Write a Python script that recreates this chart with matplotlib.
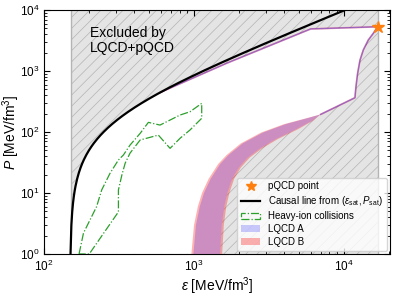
import numpy as np
import matplotlib
matplotlib.use("Agg")
import matplotlib.pyplot as plt
from matplotlib.lines import Line2D
from matplotlib.patches import Patch

plt.rcParams['font.family'] = ['Liberation Sans', 'DejaVu Sans']
plt.rcParams['mathtext.fontset'] = 'custom'
plt.rcParams['mathtext.rm'] = 'Liberation Sans'
plt.rcParams['mathtext.it'] = 'Liberation Sans:italic'
plt.rcParams['mathtext.bf'] = 'Liberation Sans:bold'
plt.rcParams['hatch.color'] = '#b4b4b4'
plt.rcParams['hatch.linewidth'] = 0.5

# ---- data (MeV/fm^3) ----
eps_sat = 150.0
P_sat = 1.0
eps_pqcd = 16780.0
P_pqcd = 5320.0

# upper boundary of allowed region (starts on causal line)
upper_eps = [593, 1660, 6000, 16780]
upper_P = [444, 1350, 4900, 5320]

# right boundary (from pQCD point down to kink and band)
right_eps = [16780, 15680, 14520, 13450, 12790, 12330, 12020, 11830, 7000]
right_P = [5320, 4150, 3220, 2210, 1510, 916, 553, 365, 195]

# LQCD band edges (B outer, A inner)
bandB_left_eps = [960, 1000, 1060, 1130, 1250, 1450, 1650, 2050, 2800, 4000, 5600, 7000]
bandB_left_P = [1, 3, 6, 10, 17, 30, 42, 65, 98, 135, 168, 195]
bandB_right_eps = [1540, 1580, 1640, 1720, 1850, 2050, 2350, 2850, 3600, 4900, 6200, 7000]
bandB_right_P = [1, 3, 6, 10, 17, 26, 38, 54, 76, 110, 152, 195]
bandA_left_eps = [990, 1030, 1092, 1165, 1290, 1495, 1700, 2110, 2880, 4100, 5680, 7000]
bandA_left_P = bandB_left_P
bandA_right_eps = [1490, 1530, 1590, 1665, 1790, 1985, 2275, 2760, 3490, 4760, 6100, 7000]
bandA_right_P = bandB_right_P

# heavy-ion collision contour
hic_eps = [171, 183, 224, 242, 275, 313, 338, 374, 437, 496, 593, 807, 940, 1125,
           1125, 940, 807, 692, 578, 437, 374, 347, 330, 313, 313, 200, 171]
hic_P = [1, 2.2, 6.0, 11.2, 21, 34.8, 42, 61, 95, 144, 130, 190, 215, 295,
         168, 108, 79, 54, 89, 74, 45, 30.7, 19.7, 11.2, 4.9, 1, 1]

fig = plt.figure(figsize=(3.94, 2.96), dpi=100)
ax = fig.add_axes([0.112, 0.142, 0.878, 0.824])
ax.set_xscale('log')
ax.set_yscale('log')
ax.set_xlim(100, 2.03e4)
ax.set_ylim(1, 1e4)

# excluded hatched region
ax.fill_between([eps_sat, eps_pqcd], [0.1, 0.1], [1e5, 1e5], facecolor='#e4e4e4',
                edgecolor='#b4b4b4', hatch='///', linewidth=1.0, zorder=1)

# causal line
eps_c = np.logspace(np.log10(eps_sat), np.log10(2.5e4), 400)
P_c = eps_c - eps_sat + P_sat

# allowed region (white)
mask = eps_c <= upper_eps[0]
poly_eps = list(eps_c[mask]) + upper_eps[1:] + right_eps[1:] + bandA_right_eps[::-1]
poly_P = list(P_c[mask]) + upper_P[1:] + right_P[1:] + bandA_right_P[::-1]
ax.fill(poly_eps, poly_P, facecolor='white', edgecolor='none', zorder=2)

# LQCD bands
ax.fill(bandB_left_eps + bandB_right_eps[::-1], bandB_left_P + bandB_right_P[::-1],
        facecolor='red', alpha=0.3, edgecolor='none', zorder=3)
ax.fill(bandA_left_eps + bandA_right_eps[::-1], bandA_left_P + bandA_right_P[::-1],
        facecolor='blue', alpha=0.2, edgecolor='none', zorder=3)

# boundary lines of LQCD constraint
bnd_eps = upper_eps + right_eps[1:]
bnd_P = upper_P + right_P[1:]
ax.plot(bnd_eps, bnd_P, color='red', alpha=0.35, lw=1.3, zorder=4)
ax.plot(bnd_eps, bnd_P, color='blue', alpha=0.35, lw=1.0, zorder=4)

ax.plot(eps_c, P_c, color='black', lw=1.6, zorder=5)

ax.plot(hic_eps, hic_P, color='#2ca02c', lw=0.9, ls='-.', zorder=5)

ax.plot([eps_pqcd], [P_pqcd], marker='*', color='#ff7f0e', ms=9, ls='none', zorder=6,
        clip_on=False)

ax.text(203, 3200, 'Excluded by\nLQCD+pQCD', fontsize=10, ha='left', va='center',
        linespacing=1.1, zorder=7)

ax.tick_params(which='both', direction='in', top=True, right=True, labelsize=8.5)
ax.tick_params(which='major', length=4)
ax.tick_params(which='minor', length=2)
ax.set_xlabel(r'$\varepsilon$ [MeV/fm$^3$]', fontsize=10, labelpad=1)
ax.set_ylabel(r'$P$ [MeV/fm$^3$]', fontsize=10)
ax.yaxis.set_label_coords(-0.065, 0.5)

handles = [
    Line2D([], [], marker='*', color='#ff7f0e', ls='none', ms=7),
    Line2D([], [], color='black', lw=1.6),
    Patch(facecolor='none', edgecolor='#2ca02c', ls='-.', lw=0.9),
    Patch(facecolor='blue', alpha=0.2),
    Patch(facecolor='red', alpha=0.3),
]
labels = ['pQCD point', r'Causal line from $(\varepsilon_{\rm sat}, P_{\rm sat})$',
          'Heavy-ion collisions', 'LQCD A', 'LQCD B']
leg = ax.legend(handles, labels, loc='lower right', fontsize=7, labelspacing=0.3,
                borderaxespad=0.3, handlelength=2.0)
leg.set_zorder(10)

fig.savefig('out.png', dpi=100)
